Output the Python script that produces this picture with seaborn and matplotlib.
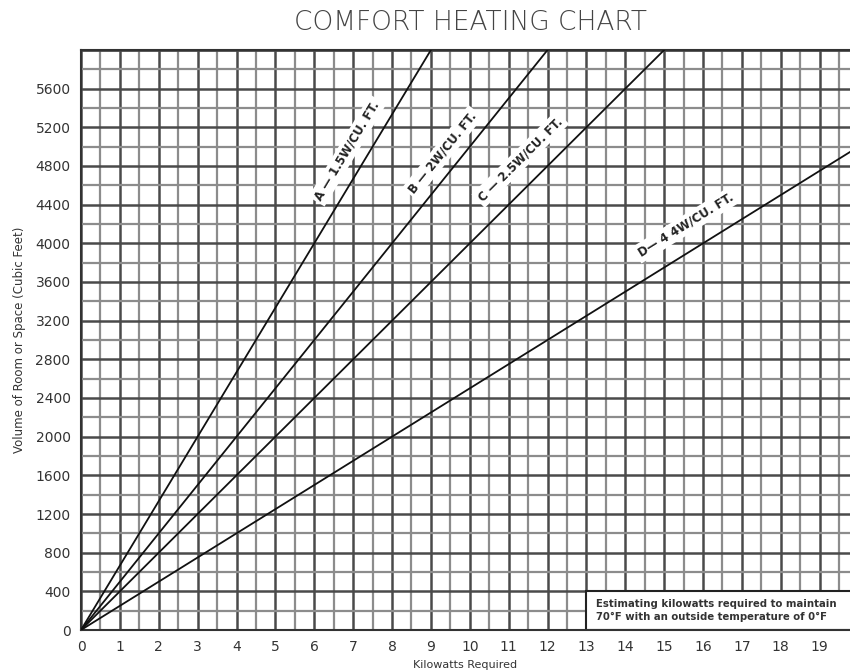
import numpy as np
import pandas as pd
import matplotlib
matplotlib.use("Agg")
import matplotlib.pyplot as plt
import seaborn as sns
from matplotlib.patches import Rectangle

# chart values
line_names = ["A", "B", "C", "D"]
line_labels = ["A — 1.5W/CU. FT.", "B — 2W/CU. FT.", "C — 2.5W/CU. FT.", "D— 4 4W/CU. FT."]
line_volume = [0, 6000]                       # cubic feet at each end of a line
line_kw = {"A": [0, 9], "B": [0, 12], "C": [0, 15], "D": [0, 24]}
x_ticks = list(range(0, 20))
y_ticks = list(range(0, 5601, 400))
note_text = "Estimating kilowatts required to maintain\n70°F with an outside temperature of 0°F"

rows = []
for name in line_names:
    for kw, vol in zip(line_kw[name], line_volume):
        rows.append({"line": name, "kw": kw, "volume": vol})
df = pd.DataFrame(rows)

sns.set_style("white")
plt.rcParams["font.family"] = ["DejaVu Sans"]

fig = plt.figure(figsize=(8.5, 6.71), dpi=100)
ax = fig.add_axes([81 / 850, 1 - 630 / 671, 1 - 81 / 850, (630 - 50) / 671])

# graph paper grid
ax.set_xlim(0, 19.78)
ax.set_ylim(0, 6000)
ax.set_xticks(x_ticks)
ax.set_yticks(y_ticks)
ax.set_xticks(np.arange(0.5, 20, 1), minor=True)
ax.set_yticks(np.arange(200, 6000, 400), minor=True)
ax.grid(which="major", color="#4a4a4a", linewidth=1.8)
ax.grid(which="minor", color="#8c8c8c", linewidth=1.6)
ax.axhline(6000, color="#4a4a4a", linewidth=2)
ax.set_axisbelow(True)

sns.lineplot(data=df, x="kw", y="volume", hue="line", estimator=None,
             palette=["#111111"] * 4, linewidth=1.3, legend=False, ax=ax, zorder=3)

# line labels along each line
label_pos = [(6.85, 4960), (9.3, 4940), (11.3, 4870), (15.55, 4190)]
for name, text, (lx, ly) in zip(line_names, line_labels, label_pos):
    x0, x1 = line_kw[name]
    ang = np.degrees(np.arctan2(line_volume[1] - line_volume[0], x1 - x0))
    ax.text(lx, ly, text, rotation=ang, transform_rotates_text=True,
            rotation_mode="anchor", ha="center", va="center", fontsize=8.5,
            fontweight="bold", color="#222222", zorder=4,
            bbox=dict(boxstyle="square,pad=0.25", fc="white", ec="none"))

# note box in the lower right
ax.add_patch(Rectangle((13, 0), 7, 400, facecolor="white", edgecolor="#222222",
                       linewidth=1.5, zorder=2.5))
ax.text(13.25, 200, note_text, ha="left", va="center", fontsize=7.3,
        fontweight="bold", color="#333333", linespacing=1.3, zorder=4)

ax.spines["right"].set_visible(False)
for side in ["left", "bottom", "top"]:
    ax.spines[side].set_color("#333333")
    ax.spines[side].set_linewidth(1.5)

ax.tick_params(axis="both", which="major", direction="out", length=4,
               width=1.2, color="#555555", labelsize=10, labelcolor="#333333")
ax.tick_params(axis="both", which="minor", length=0)
ax.tick_params(axis="x", pad=3)
ax.set_xlabel("Kilowatts Required", fontsize=8, color="#333333", va="center")
ax.xaxis.set_label_coords(0.5, -35 / 580)
ax.set_ylabel("Volume of Room or Space (Cubic Feet)", fontsize=8.5, color="#333333",
              va="center")
ax.yaxis.set_label_coords(-61 / 769, 0.5)

fig.text(470 / 850, 1 - 22 / 671, "COMFORT HEATING CHART", ha="center", va="center",
         fontsize=19, color="#444444", fontweight="light")

fig.savefig("out.png", dpi=100, facecolor="white")
